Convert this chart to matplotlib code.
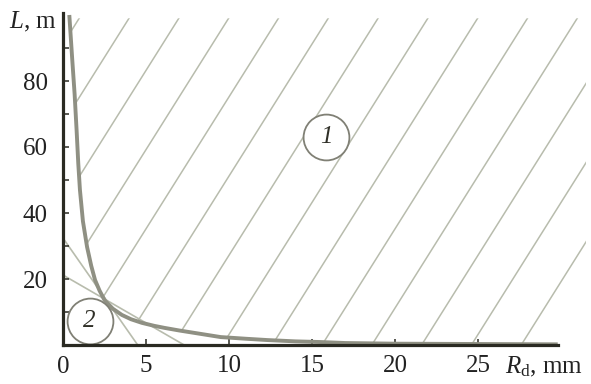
import numpy as np
import matplotlib.pyplot as plt
from matplotlib.patches import Polygon

plt.rcParams['font.family'] = 'Liberation Serif'
plt.rcParams['mathtext.fontset'] = 'custom'
plt.rcParams['mathtext.rm'] = 'Liberation Serif'
plt.rcParams['mathtext.it'] = 'Liberation Serif:italic'

# boundary curve L(R_d)
curve_R = [0.38, 0.55, 0.70, 0.82, 0.92, 1.02, 1.20, 1.45, 1.70, 1.93, 2.20, 2.50,
           3.00, 3.55, 4.10, 4.76, 5.50, 6.10, 7.00, 8.00, 9.50, 11.0, 12.3, 14.0,
           15.5, 17.0, 20.0, 25.0, 29.8]
curve_L = [100, 87, 76, 65, 55, 47, 37.5, 29.7, 24, 19.7, 16.5, 13.6,
           11.0, 9.1, 7.8, 6.7, 5.8, 5.2, 4.4, 3.6, 2.4, 1.9, 1.5, 1.1,
           0.9, 0.6, 0.4, 0.3, 0.2]

# the two straight lines in region 2 (start on L axis, end on R axis)
line_a = ([0, 4.5], [32.4, 0])
line_b = ([0, 7.3], [21.2, 0])

# region markers
region_names = ['1', '2']
region_R = [15.85, 1.6]
region_L = [63, 7.4]

x_ticks = [5, 10, 15, 20, 25]
x_labels = ['5', '10', '15', '20', '25']
y_ticks = [20, 40, 60, 80]
y_minor = [10, 30, 50, 70, 90]

dark = '#2a2a22'
hatch_col = '#b8bcad'
curve_col = '#8f9083'

fig = plt.figure(figsize=(5.91, 3.84), dpi=100)
ax = fig.add_axes([63/591, 39/384, 524.6/591, 333.3/384])
ax.set_xlim(0, 31.6)
ax.set_ylim(0, 101)

# hatching of region 1, clipped to the area above the curve
hatch_top = 99
hatch_right = 31.5
verts = list(zip(curve_R, curve_L)) + [(29.8, 0), (hatch_right, 0),
                                        (hatch_right, hatch_top), (curve_R[0], hatch_top)]
region1 = Polygon(verts, closed=True, transform=ax.transData, fc='none', ec='none')
ax.add_patch(region1)
slope = 8.0
for b in np.arange(-11.4, 28.0, 3.0):
    ln, = ax.plot([b, b + hatch_top / slope], [0, hatch_top], color=hatch_col, lw=1.1,
                  zorder=1)
    ln.set_clip_path(region1)

# region 2 lines
ax.plot(*line_a, color=hatch_col, lw=1.2, zorder=1)
ax.plot(*line_b, color=hatch_col, lw=1.2, zorder=1)

# main curve
ax.plot(curve_R, curve_L, color=curve_col, lw=2.8, zorder=3, solid_capstyle='butt')

# circled region numbers
for name, r, l in zip(region_names, region_R, region_L):
    ax.plot(r, l, 'o', ms=33, mfc='white', mec='#808075', mew=1.3, zorder=4)
    ax.text(r, l, name, fontsize=18, style='italic', ha='center', va='center',
            color='#303028', zorder=5)

# axes
for s in ['top', 'right']:
    ax.spines[s].set_visible(False)
ax.spines['left'].set_bounds(0, 100.5)
ax.spines['bottom'].set_bounds(0, 29.8)
for s in ['left', 'bottom']:
    ax.spines[s].set_linewidth(2.3)
    ax.spines[s].set_color(dark)
    ax.spines[s].set_zorder(6)

ax.set_xticks(x_ticks)
ax.set_xticklabels(x_labels)
ax.set_yticks(y_ticks)
ax.set_yticks(y_minor, minor=True)
ax.tick_params(axis='both', which='both', direction='in', length=4, width=1.1,
               color=dark, labelsize=18, labelcolor='#222222')
ax.tick_params(axis='x', pad=7)
ax.tick_params(axis='y', pad=11)
ax.text(0, -8.5, '0', fontsize=18, ha='center', va='baseline', color='#222222')

ax.text(26.6, -8.5, r'$\mathit{R}_\mathrm{d}$, mm', fontsize=18, ha='left',
        va='baseline', color='#222222')
ax.text(-0.35, 96, r'$\mathit{L}$, m', fontsize=18, ha='right', va='baseline',
        color='#222222')

fig.savefig('out.png', dpi=100)
